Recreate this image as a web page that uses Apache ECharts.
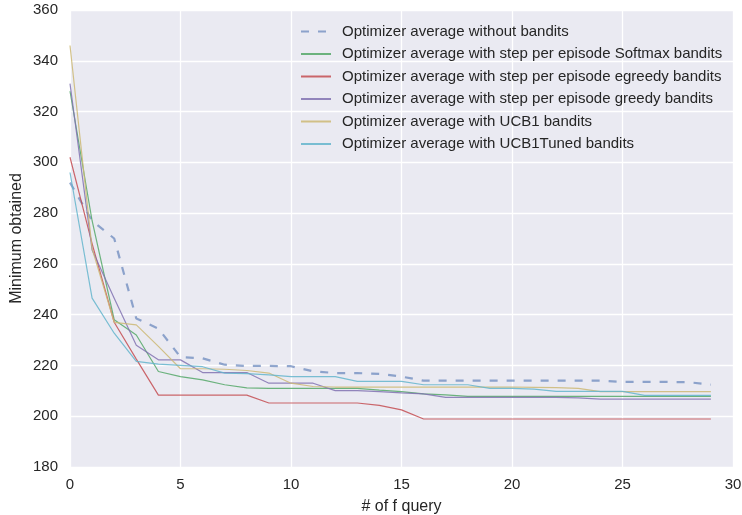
<!DOCTYPE html>
<html>
<head>
<meta charset="utf-8">
<script src="https://cdn.jsdelivr.net/npm/echarts@6/dist/echarts.min.js"></script>
<style>
  html, body { margin: 0; padding: 0; background: #ffffff; }
  #chart { width: 742px; height: 515px; }
</style>
</head>
<body>
<div id="chart"></div>
<script>
// Number of function queries (x) and the averaged minimum per optimizer variant
var queries = [0, 1, 2, 3, 4, 5, 6, 7, 8, 9, 10, 11, 12, 13, 14, 15, 16, 17, 18, 19, 20, 21, 22, 23, 24, 25, 26, 27, 28, 29];

var noBandits = [292, 277, 270, 238.5, 234.5, 223.3, 222.8, 220.3, 219.8, 219.8, 219.7, 217.7, 217, 217, 216.7, 215.6, 214, 214, 214, 214, 214, 214, 214, 214, 214, 213.5, 213.5, 213.5, 213.4, 212.4];
var softmax = [328, 277, 238, 232, 217.6, 215.6, 214.3, 212.4, 211.2, 211, 211, 211, 211, 211, 210.3, 209.7, 208.8, 208.4, 207.8, 207.8, 207.8, 207.8, 207.8, 207.8, 207.8, 207.8, 207.8, 207.8, 207.8, 207.8];
var egreedy = [302, 268, 237, 222.5, 208.3, 208.3, 208.3, 208.3, 208.3, 205.2, 205.2, 205.2, 205.2, 205.2, 204.3, 202.5, 198.9, 198.9, 198.9, 198.9, 198.9, 198.9, 198.9, 198.9, 198.9, 198.9, 198.9, 198.9, 198.9, 198.9];
var greedy = [331, 265.5, 246.5, 228, 222.2, 222.2, 217.2, 217.2, 217.2, 213, 213, 213, 210.1, 210.1, 209.7, 209.2, 208.8, 207.4, 207.4, 207.4, 207.4, 207.4, 207.4, 207.2, 206.7, 206.7, 206.7, 206.7, 206.7, 206.7];
var ucb1 = [346, 266, 237, 236, 227.5, 218.7, 218.7, 218.5, 218, 217, 213, 211.7, 211.5, 211.5, 211.5, 211.5, 211.5, 211.5, 211.5, 211.5, 211.5, 211.4, 211.3, 211, 209.7, 209.7, 209.7, 209.7, 209.7, 209.7];
var ucb1Tuned = [296, 246.5, 232.7, 221.6, 220.5, 220, 219.5, 217, 216.8, 216.3, 215.6, 215.6, 215.6, 213.7, 213.7, 213.7, 212.4, 212.4, 212.4, 211, 211, 210.7, 209.8, 209.8, 209.8, 209.8, 208.2, 208.2, 208.2, 208.2];

var seriesNames = [
  'Optimizer average without bandits',
  'Optimizer average with step per episode Softmax bandits',
  'Optimizer average with step per episode egreedy bandits',
  'Optimizer average with step per episode greedy bandits',
  'Optimizer average with UCB1 bandits',
  'Optimizer average with UCB1Tuned bandits'
];
var seriesValues = [noBandits, softmax, egreedy, greedy, ucb1, ucb1Tuned];
var seriesColors = ['#4C72B0', '#55A868', '#C44E52', '#8172B2', '#CCB974', '#64B5CD'];

function pairs(values) {
  return values.map(function (v, i) { return [queries[i], v]; });
}

var series = seriesNames.map(function (name, k) {
  var dashed = (k === 0);
  return {
    name: name,
    type: 'line',
    data: pairs(seriesValues[k]),
    symbol: 'none',
    silent: true,
    animation: false,
    lineStyle: {
      color: seriesColors[k],
      width: dashed ? 2.2 : 1.2,
      opacity: dashed ? 0.6 : 0.85,
      type: dashed ? [8, 9] : 'solid'
    },
    itemStyle: { color: seriesColors[k] }
  };
});

var textColor = '#262626';
var fontFamily = '"Liberation Sans", Arial, sans-serif';

var chart = echarts.init(document.getElementById('chart'), null, { renderer: 'canvas' });
chart.setOption({
  backgroundColor: '#ffffff',
  animation: false,
  grid: {
    left: 70, right: 9, top: 10, bottom: 48,
    outerBoundsMode: 'none',
    containLabel: false,
    show: true, backgroundColor: '#EAEAF2', borderWidth: 0
  },
  xAxis: {
    type: 'value',
    min: 0, max: 30, interval: 5,
    name: '# of f query',
    nameLocation: 'middle',
    nameGap: 32,
    nameMoveOverlap: false,
    nameTextStyle: { color: textColor, fontSize: 16, fontFamily: fontFamily },
    axisLine: { show: false },
    axisTick: { show: false },
    axisLabel: { color: textColor, fontSize: 15, fontFamily: fontFamily, margin: 10 },
    splitLine: { show: true, lineStyle: { color: '#ffffff', width: 1.3 } }
  },
  yAxis: {
    type: 'value',
    min: 180, max: 360, interval: 20,
    name: 'Minimum obtained',
    nameLocation: 'middle',
    nameGap: 45,
    nameMoveOverlap: false,
    nameTextStyle: { color: textColor, fontSize: 16, fontFamily: fontFamily },
    axisLine: { show: false },
    axisTick: { show: false },
    axisLabel: { color: textColor, fontSize: 15, fontFamily: fontFamily, margin: 12 },
    splitLine: { show: true, lineStyle: { color: '#ffffff', width: 1.3 } }
  },
  legend: {
    orient: 'vertical',
    left: 300,
    top: 24,
    padding: 0,
    itemWidth: 30,
    itemHeight: 15,
    itemGap: 7.5,
    selectedMode: false,
    itemStyle: { opacity: 0 },
    textStyle: { color: textColor, fontSize: 15, lineHeight: 15, fontFamily: fontFamily, padding: [0, 0, 0, 6] },
    data: seriesNames
  },
  series: series
});
</script>
</body>
</html>
